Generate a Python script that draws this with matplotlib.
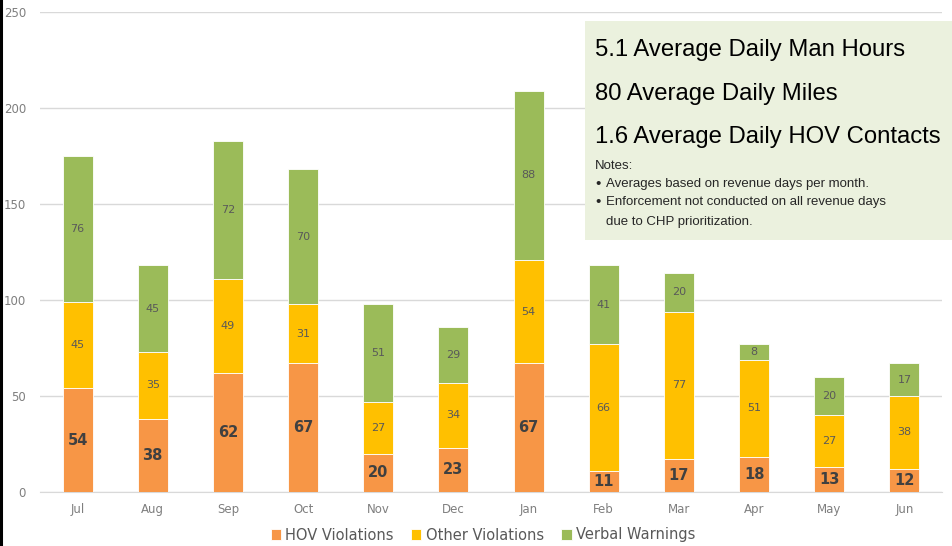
import matplotlib
matplotlib.use('Agg')
import matplotlib.pyplot as plt
from matplotlib.patches import Rectangle
from matplotlib.lines import Line2D
import numpy as np

months = ['Jul', 'Aug', 'Sep', 'Oct', 'Nov', 'Dec', 'Jan', 'Feb', 'Mar', 'Apr', 'May', 'Jun']
hov = [54, 38, 62, 67, 20, 23, 67, 11, 17, 18, 13, 12]
other = [45, 35, 49, 31, 27, 34, 54, 66, 77, 51, 27, 38]
verbal = [76, 45, 72, 70, 51, 29, 88, 41, 20, 8, 20, 17]

c_hov = '#F79646'
c_other = '#FFC000'
c_verbal = '#9BBB59'

W, H = 953, 546
fig = plt.figure(figsize=(W / 100, H / 100), dpi=100)
ax = fig.add_axes([40 / W, (H - 492) / H, 902 / W, 480 / H])

x = np.arange(len(months))
hov = np.array(hov)
other = np.array(other)
verbal = np.array(verbal)

b1 = ax.bar(x, hov, 0.4, color=c_hov, edgecolor='white', linewidth=0.6, label='HOV Violations', zorder=3)
b2 = ax.bar(x, other, 0.4, bottom=hov, color=c_other, edgecolor='white', linewidth=0.6, label='Other Violations', zorder=3)
b3 = ax.bar(x, verbal, 0.4, bottom=hov + other, color=c_verbal, edgecolor='white', linewidth=0.6, label='Verbal Warnings', zorder=3)

for i in range(len(months)):
    ax.text(x[i], hov[i] / 2, str(hov[i]), ha='center', va='center', fontsize=10.5,
            fontweight='bold', color='#404040', zorder=4)
    ax.text(x[i], hov[i] + other[i] / 2, str(other[i]), ha='center', va='center', fontsize=8,
            color='#595959', zorder=4)
    ax.text(x[i], hov[i] + other[i] + verbal[i] / 2, str(verbal[i]), ha='center', va='center',
            fontsize=8, color='#595959', zorder=4)

ax.set_xlim(-0.5, 11.5)
ax.set_ylim(0, 250)
ax.set_yticks([0, 50, 100, 150, 200, 250])
ax.set_xticks(x)
ax.set_xticklabels(months)
ax.tick_params(axis='both', length=0, colors='#7F7F7F', labelsize=8.5)
ax.tick_params(axis='x', pad=8)
ax.tick_params(axis='y', pad=10)
ax.yaxis.grid(True, color='#D9D9D9', linewidth=1)
ax.set_axisbelow(True)
for s in ['top', 'right', 'left']:
    ax.spines[s].set_visible(False)
ax.spines['bottom'].set_color('#D9D9D9')

leg = fig.legend(handles=[b1, b2, b3], loc='center', bbox_to_anchor=(483 / W, 1 - 535 / H), ncol=3,
                 frameon=False, fontsize=10.5, handlelength=0.7, handleheight=0.7,
                 handletextpad=0.3, columnspacing=1.2, labelcolor='#595959')

# info box
fig.patches.append(Rectangle((585 / W, 1 - 240 / H), 370 / W, 219 / H, transform=fig.transFigure,
                             facecolor='#EBF1DE', edgecolor='none', zorder=5))
ff = 'Liberation Sans'
fig.text(595 / W, 1 - 50 / H, '5.1 Average Daily Man Hours', fontsize=17.2, family=ff, va='center', zorder=6)
fig.text(595 / W, 1 - 94 / H, '80 Average Daily Miles', fontsize=17.2, family=ff, va='center', zorder=6)
fig.text(595 / W, 1 - 137 / H, '1.6 Average Daily HOV Contacts', fontsize=17.2, family=ff, va='center', zorder=6)
fig.text(595 / W, 1 - 166 / H, 'Notes:', fontsize=9.5, family=ff, va='center', color='#262626', zorder=6)
fig.text(595 / W, 1 - 184 / H, '\u2022', fontsize=11, family=ff, va='center', color='#262626', zorder=6)
fig.text(606 / W, 1 - 184 / H, 'Averages based on revenue days per month.', fontsize=9.5, family=ff,
         va='center', color='#262626', zorder=6)
fig.text(595 / W, 1 - 202 / H, '\u2022', fontsize=11, family=ff, va='center', color='#262626', zorder=6)
fig.text(606 / W, 1 - 202 / H, 'Enforcement not conducted on all revenue days', fontsize=9.5, family=ff,
         va='center', color='#262626', zorder=6)
fig.text(606 / W, 1 - 222 / H, 'due to CHP prioritization.', fontsize=9.5, family=ff,
         va='center', color='#262626', zorder=6)

# slide frame edge on the left
fig.lines.append(Line2D([1.5 / W, 1.5 / W], [0, 1], transform=fig.transFigure, color='black', linewidth=2.2))

fig.savefig('out.png', dpi=100)
